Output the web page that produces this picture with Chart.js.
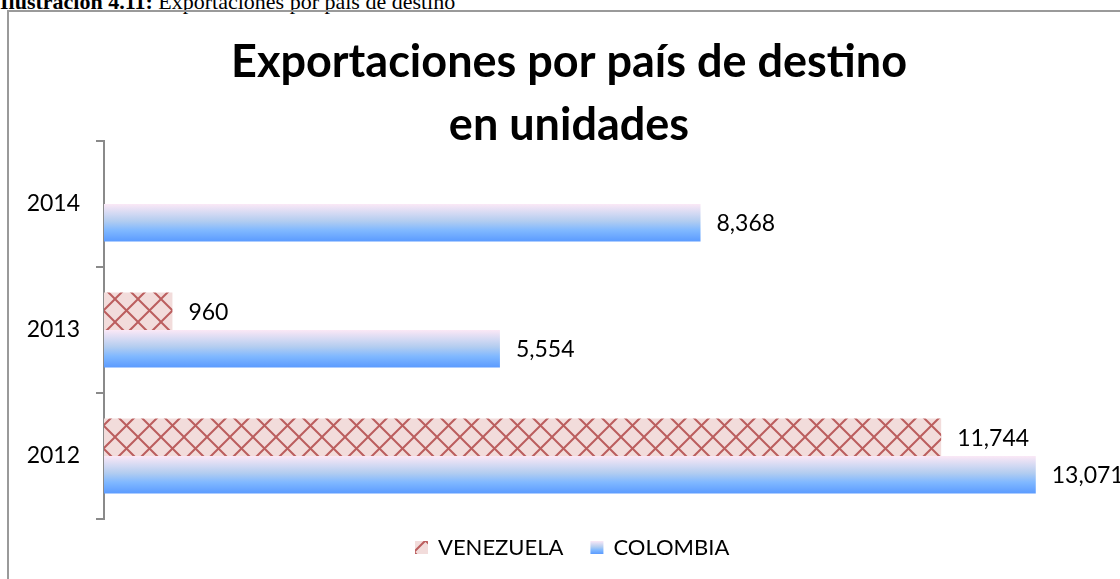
<!DOCTYPE html>
<html>
<head>
<meta charset="utf-8">
<script src="https://cdn.jsdelivr.net/npm/chart.js@4"></script>
<style>
  body { margin: 0; background: #fff; overflow: hidden; }
  #cap { position: absolute; left: 0; top: -11px; font: 22px "Liberation Serif", "Times New Roman", serif; white-space: nowrap; color: #000; }
  #frame { position: absolute; left: 7px; top: 10px; width: 1200px; height: 700px; border-left: 2px solid #9a9a9a; border-top: 2px solid #9a9a9a; }
  #canvas { position: absolute; left: 0; top: 0; }
</style>
</head>
<body>
<div id="cap"><b>Ilustración 4.11:</b> Exportaciones por país de destino</div>
<div id="frame"></div>
<canvas id="canvas" width="1120" height="579"></canvas>
<script>
// chart values
var years = ["2014", "2013", "2012"];
var seriesNames = ["VENEZUELA", "COLOMBIA"];
var venezuela = [null, 960, 11744];
var colombia = [8368, 5554, 13071];
var titleLines = ["Exportaciones por país de destino", "en unidades"];

var catPct = 0.595;
var fontFam = "Lato, 'Open Sans', sans-serif";

// crosshatch pattern for VENEZUELA
function makeLattice(ctx) {
  var c = document.createElement("canvas");
  var s = 23;
  c.width = s;
  c.height = s;
  var p = c.getContext("2d");
  p.fillStyle = "#f2dcdb";
  p.fillRect(0, 0, s, s);
  p.strokeStyle = "rgba(178,72,72,0.85)";
  p.lineWidth = 2;
  p.beginPath();
  p.moveTo(-2, -2); p.lineTo(s + 2, s + 2);
  p.moveTo(s + 2, -2); p.lineTo(-2, s + 2);
  p.stroke();
  return ctx.createPattern(c, "repeat");
}

function blueGrad(ctx, top, bottom) {
  var g = ctx.createLinearGradient(0, top, 0, bottom);
  g.addColorStop(0, "#fbe8f6");
  g.addColorStop(0.45, "#b3cdf0");
  g.addColorStop(0.7, "#80b8ff");
  g.addColorStop(1, "#5b9bff");
  return g;
}

var canvas = document.getElementById("canvas");
var lattice = makeLattice(canvas.getContext("2d"));

var titlePlugin = {
  id: "titleText",
  afterDraw: function (chart) {
    var ctx = chart.ctx;
    ctx.save();
    ctx.fillStyle = "#000";
    ctx.textAlign = "center";
    ctx.textBaseline = "alphabetic";
    ctx.font = "bold 45px " + fontFam;
    ctx.fillText(titleLines[0], 569, 77);
    ctx.fillText(titleLines[1], 569, 140);
    ctx.restore();
  },
};

var valueLabels = {
  id: "valueLabels",
  afterDatasetsDraw: function (chart) {
    var ctx = chart.ctx;
    ctx.save();
    ctx.font = "23px " + fontFam;
    ctx.fillStyle = "#000";
    ctx.textAlign = "left";
    ctx.textBaseline = "middle";
    chart.data.datasets.forEach(function (ds, di) {
      chart.getDatasetMeta(di).data.forEach(function (bar, i) {
        var v = ds.data[i];
        if (v == null) return;
        ctx.fillText(v.toLocaleString("en-US"), bar.x + 16, bar.y + 1);
      });
    });
    ctx.restore();
  },
};

var legendBoxes = {
  id: "legendBoxes",
  afterDraw: function (chart) {
    var ctx = chart.ctx;
    ctx.save();
    ctx.font = "22px " + fontFam;
    ctx.textBaseline = "middle";
    ctx.fillStyle = "#000";
    var x = 415, y = 547;
    chart.data.datasets.forEach(function (ds, di) {
      ctx.fillStyle = di === 0 ? lattice : blueGrad(ctx, y - 6, y + 7);
      ctx.fillRect(x, y - 6, 13, 13);
      ctx.fillStyle = "#000";
      ctx.fillText(ds.label, x + 23, y + 1);
      x += 23 + ctx.measureText(ds.label).width + 27;
    });
    ctx.restore();
  },
};

var config = {
  type: "bar",
  data: {
    labels: years,
    datasets: [
      {
        label: seriesNames[0],
        data: venezuela,
        backgroundColor: lattice,
        borderWidth: 0,
      },
      {
        label: seriesNames[1],
        data: colombia,
        borderWidth: 0,
        backgroundColor: function (c) {
          var chart = c.chart;
          var area = chart.chartArea;
          if (!area || c.dataIndex == null) return "#8ab8f5";
          var center = chart.scales.y.getPixelForValue(c.dataIndex);
          var band = ((area.bottom - area.top) / years.length) * catPct / 2;
          return blueGrad(chart.ctx, center, center + band);
        },
      },
    ],
  },
  options: {
    indexAxis: "y",
    responsive: false,
    animation: false,
    devicePixelRatio: 1,
    categoryPercentage: catPct,
    barPercentage: 1,
    layout: { padding: { top: 141, bottom: 60, left: 0, right: 18 } },
    plugins: {
      legend: { display: false },
      title: { display: false },
      tooltip: { enabled: false },
    },
    scales: {
      x: { display: false, min: 0, max: 14000 },
      y: {
        afterFit: function (scale) { scale.width = 104; },
        border: { display: true, color: "#8a8a8a", width: 2 },
        grid: {
          display: true,
          drawOnChartArea: false,
          drawTicks: true,
          tickLength: 8,
          color: "#8a8a8a",
          lineWidth: 2,
        },
        ticks: {
          color: "#000",
          padding: 16,
          font: { family: fontFam, size: 23 },
        },
      },
    },
  },
  plugins: [titlePlugin, valueLabels, legendBoxes],
};

var myChart = new Chart(canvas, config);
</script>
</body>
</html>
